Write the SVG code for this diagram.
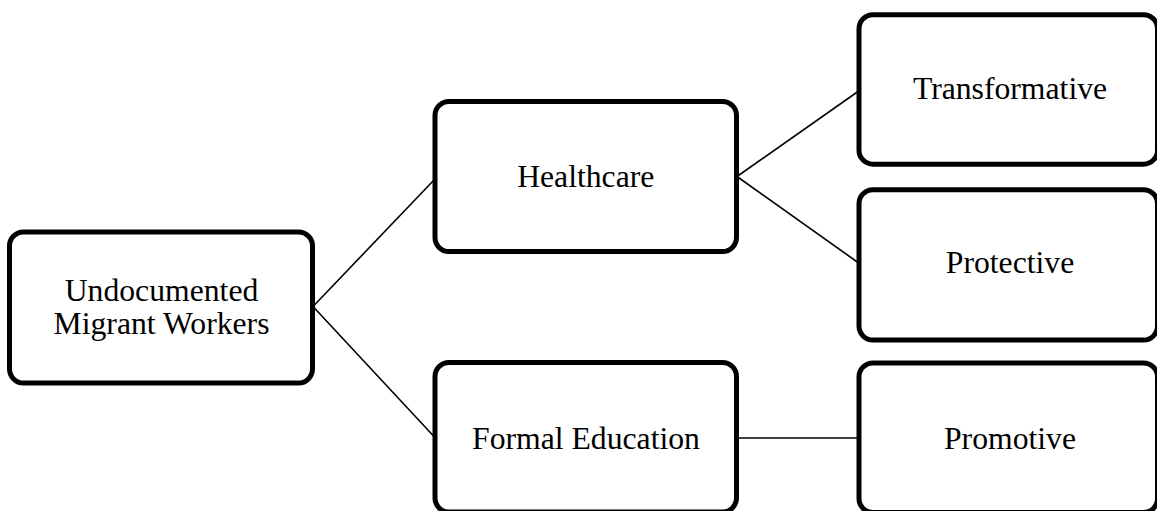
<svg xmlns="http://www.w3.org/2000/svg" width="1157" height="511" viewBox="0 0 1157 511">
  <style>
    .box { fill: #ffffff; stroke: #000000; stroke-width: 5; }
    .label { font-family: "Liberation Serif", "Times New Roman", serif; font-size: 31.7px; fill: #000000; text-anchor: middle; }
    .link { stroke: #000000; stroke-width: 1.6; fill: none; }
  </style>
  <rect width="1157" height="511" fill="#ffffff"/>

  <!-- connectors -->
  <g id="connectors">
    <line class="link" x1="313" y1="306.5" x2="434" y2="180"/>
    <line class="link" x1="313" y1="306.5" x2="434" y2="436.5"/>
    <line class="link" x1="737" y1="176.5" x2="858" y2="91.5"/>
    <line class="link" x1="737" y1="176.5" x2="858" y2="262.5"/>
    <line class="link" x1="737" y1="438" x2="858" y2="438"/>
  </g>

  <!-- root -->
  <g id="node-undocumented">
    <rect class="box" x="9.5" y="232" width="303" height="151" rx="14" ry="14"/>
    <text class="label" x="161.5" y="301">Undocumented</text>
    <text class="label" x="161.5" y="334">Migrant Workers</text>
  </g>

  <!-- second level -->
  <g id="node-healthcare">
    <rect class="box" x="435" y="101.5" width="301.5" height="150" rx="14" ry="14"/>
    <text class="label" x="585.75" y="186.7">Healthcare</text>
  </g>
  <g id="node-formal-education">
    <rect class="box" x="435" y="362.5" width="301.5" height="149.5" rx="14" ry="14"/>
    <text class="label" x="586" y="449">Formal Education</text>
  </g>

  <!-- third level -->
  <g id="node-transformative">
    <rect class="box" x="859" y="14.7" width="298.5" height="149.5" rx="14" ry="14"/>
    <text class="label" x="1010" y="99.3">Transformative</text>
  </g>
  <g id="node-protective">
    <rect class="box" x="859" y="189.7" width="298.5" height="150.3" rx="14" ry="14"/>
    <text class="label" x="1010" y="273.3">Protective</text>
  </g>
  <g id="node-promotive">
    <rect class="box" x="859" y="363" width="298.5" height="149.5" rx="14" ry="14"/>
    <text class="label" x="1010" y="449">Promotive</text>
  </g>
</svg>
